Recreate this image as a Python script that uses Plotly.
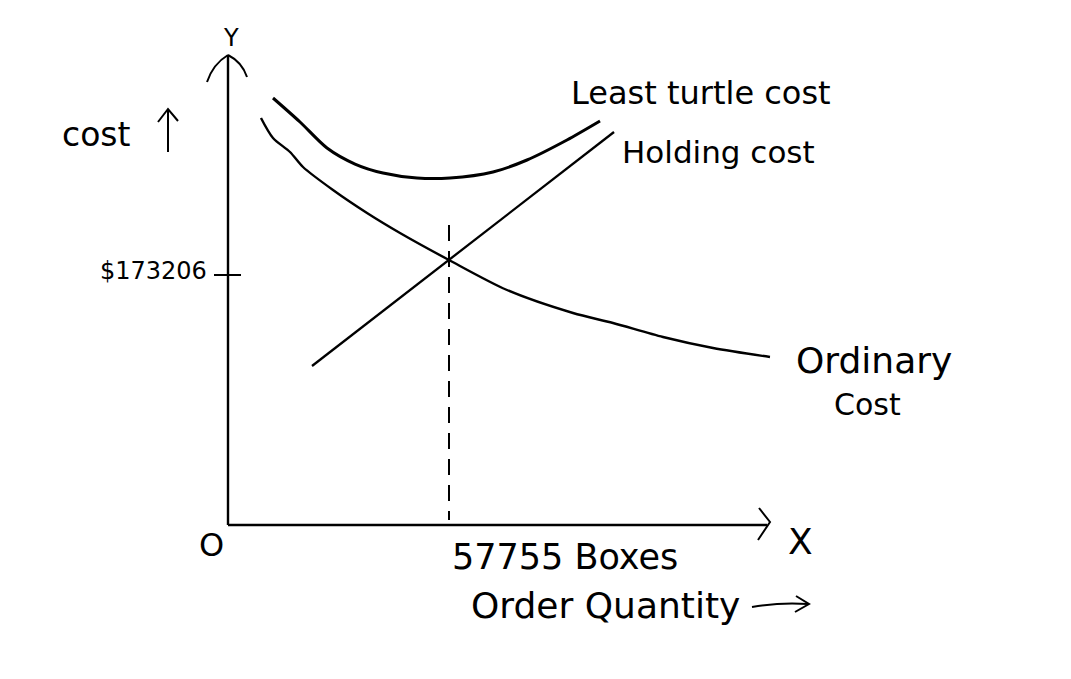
import plotly.graph_objects as go

# ---- data (order quantity in boxes, cost in $) ----
eoq_qty = 57755
eoq_cost = 173206

total_qty = [11760, 18820, 25870, 33190, 40510, 49390, 58020, 69250, 78140, 88590, 97220]
total_cost = [286660, 270550, 253100, 242350, 236310, 232950, 232950, 236980, 245040, 258470, 271220]

ordinary_qty = [8620, 11760, 16200, 19600, 27440, 36330, 44950, 57755, 72910, 90160, 100610, 113680, 126750, 141640]
ordinary_cost = [273240, 259810, 250410, 240340, 224900, 209460, 196030, 177900, 157770, 142320, 135610, 126210, 118830, 112790]

holding_qty = [21950, 100880]
holding_cost = [106740, 263840]

dash_qty = [eoq_qty, eoq_qty]
dash_cost = [201400, 3400]

# ---- layout geometry ----
PAD = 8                      # default page margin of the html body
W, H = 1071 - 2 * PAD, 679 - 2 * PAD
OX, OY = 228, 525            # origin position on the page
KX = eoq_qty / 221.0         # boxes per pixel
KY = eoq_cost / 258.0        # dollars per pixel


def px(x, y):
    return (x - PAD) / W, 1 - (y - PAD) / H


fig = go.Figure()
fig.add_trace(go.Scatter(x=total_qty, y=total_cost, mode="lines",
                         line=dict(color="black", width=3, shape="spline", smoothing=0.8)))
fig.add_trace(go.Scatter(x=ordinary_qty, y=ordinary_cost, mode="lines",
                         line=dict(color="black", width=2.4, shape="spline", smoothing=0.8)))
fig.add_trace(go.Scatter(x=holding_qty, y=holding_cost, mode="lines",
                         line=dict(color="black", width=2.3)))
fig.add_trace(go.Scatter(x=dash_qty, y=dash_cost, mode="lines",
                         line=dict(color="black", width=2, dash="16px,10px")))

shapes = []
# axes
shapes.append(dict(type="line", xref="x", yref="y", x0=0, y0=0, x1=0, y1=(OY - 55) * KY,
                   line=dict(color="black", width=2.4)))
shapes.append(dict(type="line", xref="x", yref="y", x0=0, y0=0, x1=(767 - OX) * KX, y1=0,
                   line=dict(color="black", width=2.4)))
# tick at cost value
shapes.append(dict(type="line", xref="x", yref="y", x0=-14 * KX, y0=eoq_cost - 8 * KY,
                   x1=13 * KX, y1=eoq_cost - 8 * KY, line=dict(color="black", width=2)))


def path_px(points):
    s = ""
    for i, (x, y) in enumerate(points):
        X, Y = px(x, y)
        s += ("M" if i == 0 else "L") + f"{X:.5f},{Y:.5f} "
    return s


def qpath(p0, c, p1):
    a = px(*p0); b = px(*c); d = px(*p1)
    return f"M{a[0]:.5f},{a[1]:.5f} Q{b[0]:.5f},{b[1]:.5f} {d[0]:.5f},{d[1]:.5f}"


# y-axis arrowhead (curved)
shapes.append(dict(type="path", xref="paper", yref="paper",
                   path=qpath((207, 82), (213, 64), (228, 55)), line=dict(color="black", width=2)))
shapes.append(dict(type="path", xref="paper", yref="paper",
                   path=qpath((228, 55), (242, 62), (247, 77)), line=dict(color="black", width=2)))
# x-axis arrowhead
shapes.append(dict(type="path", xref="paper", yref="paper",
                   path=path_px([(759, 508), (770, 522), (758, 540)]), line=dict(color="black", width=2)))
# cost up arrow
shapes.append(dict(type="path", xref="paper", yref="paper",
                   path=path_px([(168, 152), (168, 110)]), line=dict(color="black", width=2)))
shapes.append(dict(type="path", xref="paper", yref="paper",
                   path=path_px([(158, 122), (168, 109), (178, 121)]), line=dict(color="black", width=2)))
# order quantity arrow
shapes.append(dict(type="path", xref="paper", yref="paper",
                   path=qpath((752, 607), (780, 602), (808, 604)), line=dict(color="black", width=2)))
shapes.append(dict(type="path", xref="paper", yref="paper",
                   path=path_px([(796, 596), (809, 604), (795, 612)]), line=dict(color="black", width=2)))

FONT = "DejaVu Sans"


def label(text, x, y, size, anchor="center"):
    X, Y = px(x, y)
    return dict(text=text, x=X, y=Y, xref="paper", yref="paper", showarrow=False,
                xanchor=anchor, yanchor="middle",
                font=dict(family=FONT, size=size, color="black"))


annotations = [
    label("Y", 231, 38, 24),
    label("cost", 96, 135, 33),
    label(f"${eoq_cost}", 153, 271, 24),
    label("O", 211, 545, 32),
    label("X", 800, 541, 36),
    label(f"{eoq_qty} Boxes", 565, 557, 35),
    label("Order Quantity", 605, 605, 36),
    label("Least turtle cost", 701, 93, 32),
    label("Holding cost", 718, 152, 31),
    label("Ordinary", 874, 360, 36),
    label("Cost", 867, 404, 30),
]

fig.update_layout(
    width=W, height=H, autosize=False,
    margin=dict(l=0, r=0, t=0, b=0),
    paper_bgcolor="white", plot_bgcolor="white",
    showlegend=False,
    xaxis=dict(range=[-(OX - PAD) * KX, (PAD + W - OX) * KX], visible=False, fixedrange=True),
    yaxis=dict(range=[-(PAD + H - OY) * KY, (OY - PAD) * KY], visible=False, fixedrange=True),
    shapes=shapes, annotations=annotations,
)

fig.write_html("out.html", config={"displayModeBar": False})
